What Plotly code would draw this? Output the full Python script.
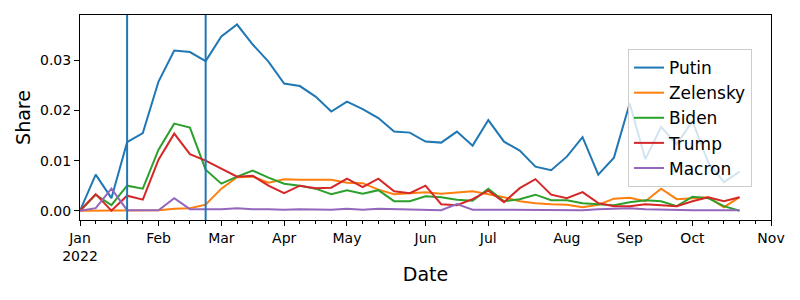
import pandas as pd
import plotly.graph_objects as go

# Weekly periods (weeks ending Sunday), Jan 2022 .. Nov 2022
week_ends = pd.date_range("2022-01-02", periods=45, freq="W-SUN")

series_names = ["Putin", "Zelensky", "Biden", "Trump", "Macron"]
series_colors = ["#1f77b4", "#ff7f0e", "#2ca02c", "#d62728", "#9467bd"]

putin = [0, 0.0072, 0.0025, 0.0137, 0.0155, 0.0258, 0.0320, 0.0317, 0.0299, 0.0348,
         0.0372, 0.0332, 0.0298, 0.0254, 0.0249, 0.0228, 0.0198, 0.0218, 0.0203, 0.0185,
         0.0158, 0.0156, 0.0138, 0.0136, 0.0158, 0.0130, 0.0181, 0.0138, 0.0120, 0.0088,
         0.0081, 0.0108, 0.0147, 0.0072, 0.0106, 0.0214, 0.0103, 0.0167, 0.0133, 0.0179,
         0.0097, 0.0057, 0.0078]
zelensky = [0, 0, 0, 0.0001, 0.0001, 0.0001, 0.0004, 0.0005, 0.0012, 0.0044,
            0.0067, 0.0068, 0.0056, 0.0063, 0.0062, 0.0062, 0.0062, 0.0056, 0.0055, 0.0042,
            0.0033, 0.0035, 0.0037, 0.0034, 0.0037, 0.0039, 0.0033, 0.0027, 0.0019, 0.0015,
            0.0013, 0.0012, 0.0007, 0.0012, 0.0024, 0.0026, 0.0019, 0.0044, 0.0023, 0.0025,
            0.0027, 0.0007, 0.0027]
biden = [0, 0.0032, 0.0011, 0.0050, 0.0044, 0.0122, 0.0174, 0.0166, 0.0082, 0.0054,
         0.0068, 0.0080, 0.0066, 0.0054, 0.0050, 0.0044, 0.0033, 0.0041, 0.0034, 0.0041,
         0.0019, 0.0019, 0.0029, 0.0027, 0.0022, 0.0020, 0.0044, 0.0019, 0.0023, 0.0032,
         0.0021, 0.0021, 0.0015, 0.0013, 0.0011, 0.0017, 0.0021, 0.0019, 0.0009, 0.0028,
         0.0025, 0.0009, 0]
trump = [0, 0.0033, 0, 0.0030, 0.0022, 0.0102, 0.0154, 0.0113, 0.0100, 0.0084,
         0.0068, 0.0070, 0.0050, 0.0035, 0.0050, 0.0045, 0.0046, 0.0064, 0.0047, 0.0064,
         0.0039, 0.0035, 0.0050, 0.0013, 0.0011, 0.0023, 0.0040, 0.0017, 0.0045, 0.0063,
         0.0032, 0.0025, 0.0037, 0.0015, 0.0009, 0.0009, 0.0013, 0.0011, 0.0009, 0.0019,
         0.0027, 0.0019, 0.0027]
macron = [0, 0.0005, 0.0044, 0.0001, 0.0001, 0.0001, 0.0025, 0.0003, 0.0003, 0.0003,
          0.0005, 0.0003, 0.0003, 0.0002, 0.0003, 0.0003, 0.0002, 0.0004, 0.0002, 0.0004,
          0.0003, 0.0002, 0.0001, 0.0001, 0.0013, 0.0002, 0.0002, 0.0002, 0.0002, 0.0002,
          0.0001, 0.0002, 0.0001, 0.0003, 0.0004, 0.0005, 0.0003, 0.0002, 0.0001, 0.0001,
          0.0001, 0.0001, 0.0001]

event_dates = ["2022-01-19", "2022-02-24"]

series_values = [putin, zelensky, biden, trump, macron]
n_points = len(putin)
x_idx = list(range(n_points))

# month ticks at first weekly period of each month
tick_vals, tick_text = [], []
for i, d in enumerate(week_ends):
    if i == 0 or d.month != week_ends[i - 1].month:
        tick_vals.append(i)
        lab = d.strftime("%b")
        if i == 0:
            lab += "<br>" + d.strftime("%Y")
        tick_text.append(lab)

def week_index(date_str):
    d = pd.Timestamp(date_str)
    for i, w in enumerate(week_ends):
        if d <= w:
            return i
    return len(week_ends) - 1

FONT = "DejaVu Sans"
fig = go.Figure()
for name, vals, col in zip(series_names, series_values, series_colors):
    fig.add_trace(go.Scatter(x=x_idx, y=vals, mode="lines", name=name,
                             line=dict(color=col, width=2)))

for ed in event_dates:
    fig.add_vline(x=week_index(ed), line=dict(color="#1f77b4", width=2), layer="above")

# page body has an 8px margin; figure sized/margined to compensate
fig.update_layout(
    width=792, height=292,
    margin=dict(l=72, r=29, t=7, b=80, autoexpand=False),
    paper_bgcolor="white", plot_bgcolor="white",
    font=dict(family=FONT, color="black", size=14),
    showlegend=True,
    legend=dict(x=0.793, y=0.834, xanchor="left", yanchor="top",
                bgcolor="rgba(255,255,255,0.8)", bordercolor="#cccccc", borderwidth=1,
                font=dict(size=17, family=FONT), tracegroupgap=0),
    xaxis=dict(range=[0, 44], tickmode="array", tickvals=tick_vals, ticktext=tick_text,
               ticks="outside", ticklen=5, tickwidth=1, tickcolor="black",
               showline=True, mirror=True, linecolor="black", linewidth=1,
               showgrid=False, zeroline=False, automargin=False,
               minor=dict(dtick=1, tick0=0, ticks="outside", ticklen=3, tickcolor="black", showgrid=False),
               tickfont=dict(size=14),
               title=dict(text="Date", font=dict(size=19), standoff=4)),
    yaxis=dict(range=[-0.00186, 0.0391], tickformat=".2f", dtick=0.01,
               ticks="outside", ticklen=5, tickwidth=1, tickcolor="black",
               showline=True, mirror=True, linecolor="black", linewidth=1,
               showgrid=False, zeroline=False, tickfont=dict(size=14), automargin=False,
               title=dict(text="Share", font=dict(size=19), standoff=4)),
)

fig.write_html("out.html")
